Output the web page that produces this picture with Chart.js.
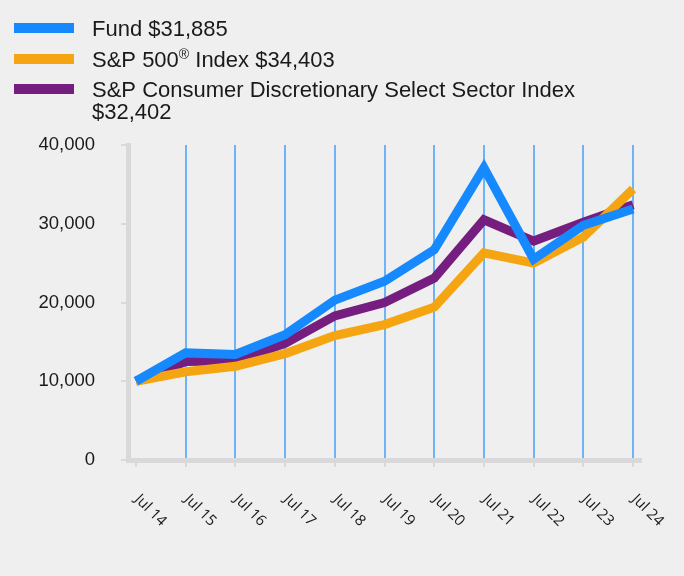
<!DOCTYPE html>
<html>
<head>
<meta charset="utf-8">
<script src="https://cdn.jsdelivr.net/npm/chart.js@4"></script>
<style>
  body { margin: 0; background: #efefef; }
  #wrap { width: 684px; height: 576px; position: relative; }
</style>
</head>
<body>
<div id="wrap"><canvas id="growth"></canvas></div>
<script>
// --- DATA ---
const years = ['Jul 14', 'Jul 15', 'Jul 16', 'Jul 17', 'Jul 18', 'Jul 19', 'Jul 20', 'Jul 21', 'Jul 22', 'Jul 23', 'Jul 24'];
const fundValues = [10000, 13600, 13400, 15900, 20300, 22700, 26700, 37100, 25500, 29800, 31885];
const sp500Values = [10000, 11200, 11900, 13500, 15800, 17200, 19400, 26300, 25000, 28300, 34403];
const discValues = [10000, 12500, 12600, 14800, 18300, 20000, 23100, 30500, 27800, 30200, 32402];
const yTicks = [0, 10000, 20000, 30000, 40000];

const BLUE = '#1589fd';
const ORANGE = '#f5a511';
const PURPLE = '#761d80';
const TEXT = '#1a1a1a';
const AXIS_GRAY = '#d9d9d9';

// legend rows: [colour, text parts]; a part with sup:true is drawn raised
const legendRows = [
    { color: BLUE, lines: [[{ t: 'Fund $31,885' }]] },
    { color: ORANGE, lines: [[{ t: 'S&P 500' }, { t: '®', sup: true }, { t: ' Index $34,403' }]] },
    { color: PURPLE, lines: [[{ t: 'S&P Consumer Discretionary Select Sector Index' }], [{ t: '$32,402' }]] }
];

const toPoints = arr => arr.map((v, i) => ({ x: i, y: v }));

// draws the legend block above the plot
const legendPlugin = {
    id: 'topLegend',
    afterDraw(chart) {
        const ctx = chart.ctx;
        const rowCenters = [28, 59, 89];
        ctx.save();
        legendRows.forEach((row, r) => {
            const cy = rowCenters[r];
            ctx.fillStyle = row.color;
            ctx.fillRect(14, cy - 5, 60, 10);
            row.lines.forEach((parts, li) => {
                let x = 92;
                const base = cy + 8 + li * 21.5;
                parts.forEach(p => {
                    ctx.fillStyle = TEXT;
                    ctx.textBaseline = 'alphabetic';
                    if (p.sup) {
                        ctx.font = '14px "Liberation Sans", Arial, sans-serif';
                        ctx.fillText(p.t, x, base - 8);
                    } else {
                        ctx.font = '22px "Liberation Sans", Arial, sans-serif';
                        ctx.fillText(p.t, x, base);
                    }
                    x += ctx.measureText(p.t).width;
                });
            });
        });
        ctx.restore();
    }
};

// x labels turned 45deg clockwise, starting under each tick
const xLabelPlugin = {
    id: 'slantLabels',
    afterDraw(chart) {
        const ctx = chart.ctx;
        const xs = chart.scales.x;
        ctx.save();
        ctx.font = '15px "Open Sans", sans-serif';
        ctx.fillStyle = TEXT;
        ctx.textAlign = 'left';
        ctx.textBaseline = 'middle';
        years.forEach((lab, i) => {
            const px = xs.getPixelForValue(i);
            ctx.save();
            ctx.translate(px + 1, 497);
            ctx.rotate(Math.PI / 4);
            ctx.fillText(lab, 0, 0);
            ctx.restore();
        });
        ctx.restore();
    }
};

const lineStyle = {
    borderWidth: 9,
    pointRadius: 0,
    tension: 0,
    borderCapStyle: 'butt',
    borderJoinStyle: 'miter',
    fill: false
};

new Chart(document.getElementById('growth'), {
    type: 'line',
    data: {
        datasets: [
            { label: 'Fund', data: toPoints(fundValues), borderColor: BLUE, ...lineStyle },
            { label: 'S&P 500 Index', data: toPoints(sp500Values), borderColor: ORANGE, ...lineStyle },
            { label: 'S&P Consumer Discretionary Select Sector Index', data: toPoints(discValues), borderColor: PURPLE, ...lineStyle }
        ]
    },
    options: {
        responsive: true,
        maintainAspectRatio: false,
        animation: false,
        layout: { padding: { top: 145, right: 43, left: 0, bottom: 0 } },
        plugins: {
            legend: { display: false },
            tooltip: { enabled: false }
        },
        scales: {
            x: {
                type: 'linear',
                min: -0.16,
                max: 10.16,
                afterBuildTicks: scale => { scale.ticks = years.map((_, i) => ({ value: i })); },
                afterFit: scale => { scale.height = 116; },
                ticks: { display: false },
                grid: {
                    color: c => (c.tick && c.tick.value === 0) ? 'rgba(0,0,0,0)' : '#6cb3f7',
                    lineWidth: 2,
                    tickColor: AXIS_GRAY,
                    tickLength: 7
                },
                border: { color: AXIS_GRAY, width: 5 }
            },
            y: {
                min: 0,
                max: 40000,
                afterBuildTicks: scale => { scale.ticks = yTicks.map(v => ({ value: v })); },
                afterFit: scale => { scale.width = 128; },
                ticks: {
                    padding: 26,
                    color: TEXT,
                    font: { size: 18.5, family: '"Liberation Sans", Arial, sans-serif' },
                    callback: v => v.toLocaleString('en-US')
                },
                grid: {
                    drawOnChartArea: false,
                    color: AXIS_GRAY,
                    tickColor: AXIS_GRAY,
                    lineWidth: 2,
                    tickLength: 7
                },
                border: { color: AXIS_GRAY, width: 5 }
            }
        }
    },
    plugins: [legendPlugin, xLabelPlugin]
});
</script>
</body>
</html>
